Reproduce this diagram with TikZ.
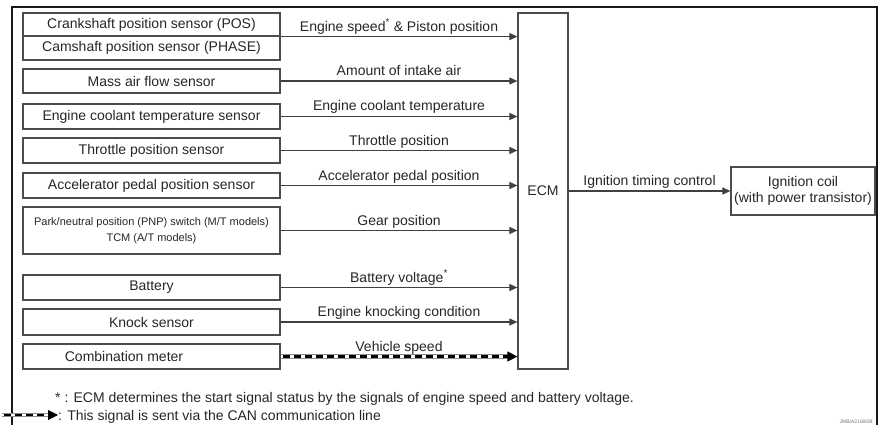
\documentclass[tikz,border=0pt]{standalone}
\usepackage{fontspec}
\setmainfont{Liberation Sans}
\usetikzlibrary{arrows.meta,calc}
\begin{document}
\begin{tikzpicture}[x=1pt,y=-1pt,
  every node/.style={font=\fontsize{14}{16}\selectfont, text=black!85},
  box/.style={draw=black!70, line width=1.2pt, minimum width=257pt, inner sep=0pt},
  sig/.style={draw=black!75, line width=1.1pt, -{Triangle[length=8pt,width=7pt]}},
  lab/.style={anchor=base, yshift=5.5pt, inner sep=0pt},
  canbase/.style={draw=black!45, line width=4.6pt},
  canfill/.style={draw=white, line width=2.6pt},
  candash/.style={draw=black, line width=2.6pt, dash pattern=on 7pt off 4pt},
  canhead/.style={draw=black, line width=1pt, -{Triangle[length=10pt,width=10pt]}},
  note/.style={anchor=base west, inner sep=0pt}
]
\useasboundingbox (0,0) rectangle (880,425);
% frame
\draw[line width=1.4pt, black!90] (12,425) -- (12,7) -- (877,7) -- (877,425);

% sensor boxes
\node[box, minimum height=23pt] (crank) at (151.5,24.5) {Crankshaft position sensor (POS)};
\node[box, minimum height=24pt] (cam) at (151.5,48) {Camshaft position sensor (PHASE)};
\node[box, minimum height=24pt] (maf) at (151.5,81) {Mass air flow sensor};
\node[box, minimum height=25pt] (ect) at (151.5,116.5) {Engine coolant temperature sensor};
\node[box, minimum height=25pt] (tps) at (151.5,150.5) {Throttle position sensor};
\node[box, minimum height=25pt] (apps) at (151.5,185.5) {Accelerator pedal position sensor};
\node[box, minimum height=47pt, align=center, font=\fontsize{11}{16}\selectfont] (pnp) at (151.5,230.5) {Park/neutral position (PNP) switch (M/T models)\\TCM (A/T models)};
\node[box, minimum height=25pt] (bat) at (151.5,287.5) {Battery};
\node[box, minimum height=26pt] (knock) at (151.5,322) {Knock sensor};
\node[box, minimum height=25pt] (comb) at (151.5,356.5) {};
\node[inner sep=0pt] (combtxt) at (124,356.5) {Combination meter};

% ECM and coil
\node[box, minimum width=50pt, minimum height=356pt] (ecm) at (543,191) {ECM};
\node[box, minimum width=144pt, minimum height=48pt, align=center] (coil) at (803,191) {Ignition coil\\(with power transistor)};

% signals
\draw[sig] (crank.south east) -- (ecm.west |- crank.south east) node[midway, lab] {Engine speed\textsuperscript{*} \& Piston position};
\draw[sig] (maf.east) -- (ecm.west |- maf.east) node[midway, lab] {Amount of intake air};
\draw[sig] (ect.east) -- (ecm.west |- ect.east) node[midway, lab] {Engine coolant temperature};
\draw[sig] (tps.east) -- (ecm.west |- tps.east) node[midway, lab] {Throttle position};
\draw[sig] (apps.east) -- (ecm.west |- apps.east) node[midway, lab] {Accelerator pedal position};
\draw[sig] (pnp.east) -- (ecm.west |- pnp.east) node[midway, lab] {Gear position};
\draw[sig] (bat.east) -- (ecm.west |- bat.east) node[midway, lab] {Battery voltage\textsuperscript{*}};
\draw[sig] (knock.east) -- (ecm.west |- knock.east) node[midway, lab] {Engine knocking condition};

% CAN signal
\draw[canbase] (comb.east) -- ([xshift=-9pt]ecm.west |- comb.east);
\draw[canfill] (comb.east) -- ([xshift=-9pt]ecm.west |- comb.east);
\draw[candash] ([xshift=2pt]comb.east) -- ([xshift=-9pt]ecm.west |- comb.east);
\draw[canhead] ([xshift=-10pt]ecm.west |- comb.east) -- (ecm.west |- comb.east);
\node[lab] (vslab) at ($(comb.east)!0.5!(ecm.west |- comb.east)$) {Vehicle speed};

% output
\draw[sig] (ecm.east |- coil.west) -- (coil.west) node[midway, lab] {Ignition timing control};

% notes
\node[note] (n1) at (55,402) {* : ECM determines the start signal status by the signals of engine speed and battery voltage.};
\coordinate (leg1) at (2,415);
\coordinate (leg2) at (58,415);
\draw[canbase] (leg1) -- ([xshift=-8pt]leg2);
\draw[canfill] (leg1) -- ([xshift=-8pt]leg2);
\draw[candash] ([xshift=2pt]leg1) -- ([xshift=-8pt]leg2);
\draw[canhead] ([xshift=-9pt]leg2) -- (leg2);
\node[note] (n2) at (58,420) {: This signal is sent via the CAN communication line};
\node[anchor=base east, inner sep=0pt, font=\fontsize{5}{6}\selectfont, text=black!55] (id) at (873,423) {JMBIA2169GB};
\end{tikzpicture}
\end{document}
